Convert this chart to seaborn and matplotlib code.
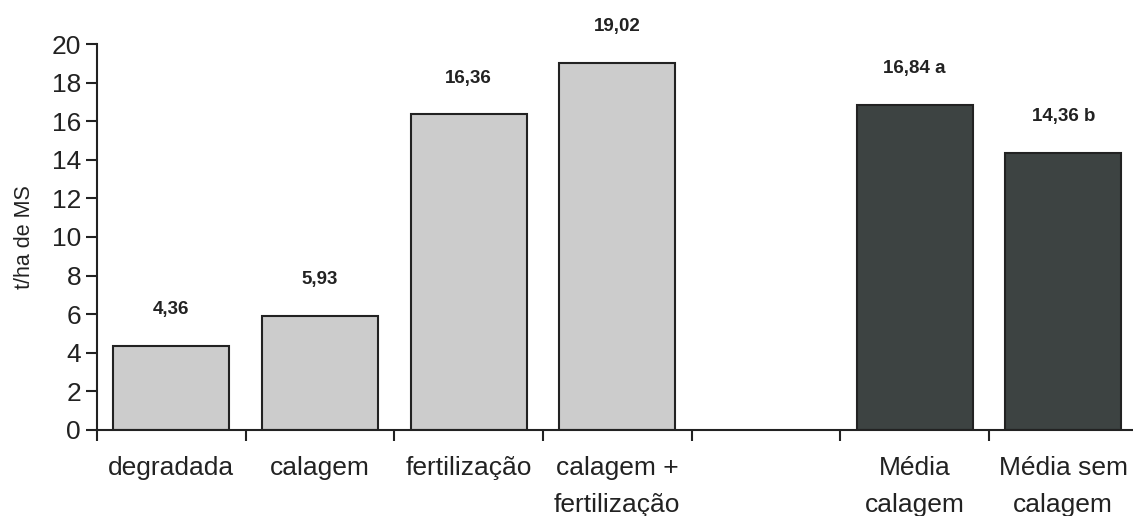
import numpy as np
import pandas as pd
import matplotlib
matplotlib.use("Agg")
import matplotlib.pyplot as plt
import seaborn as sns

# dados
categorias = ["degradada", "calagem", "fertilização", "calagem +\nfertilização",
              " ", "Média\ncalagem", "Média sem\ncalagem"]
valores = [4.36, 5.93, 16.36, 19.02, np.nan, 16.84, 14.36]
rotulos = ["4,36", "5,93", "16,36", "19,02", "", "16,84 a", "14,36 b"]
cores = ["#cccccc", "#cccccc", "#cccccc", "#cccccc", "#ffffff", "#3c4443", "#3c4443"]

df = pd.DataFrame({"cat": categorias, "val": valores})

sns.set_style("ticks")
plt.rcParams["font.family"] = ["Liberation Sans", "DejaVu Sans"]

fig = plt.figure(figsize=(11.33, 5.16), dpi=100)
ax = fig.add_axes([0.0856, 0.1667, 0.9184, 0.7480])

sns.barplot(data=df, x="cat", y="val", hue="cat", order=categorias,
            hue_order=categorias, palette=cores, legend=False,
            width=0.78, edgecolor="#222222", linewidth=1.5, ax=ax)

for i, (v, r) in enumerate(zip(valores, rotulos)):
    if np.isnan(v):
        continue
    ax.annotate(r, (i, v), xytext=(0, 26), textcoords="offset points",
                ha="center", va="center", fontsize=13.5, fontweight="bold",
                color="#222222")

ax.set_ylim(0, 20)
ax.set_xlim(-0.5, len(categorias) - 0.5)
ax.set_yticks(range(0, 21, 2))
ax.set_ylabel("t/ha de MS", fontsize=15.5, color="#222222", labelpad=12)
ax.set_xlabel("")

# ticks do eixo x nas divisas entre categorias
ax.set_xticks(np.arange(-0.5, len(categorias), 1), minor=True)
ax.tick_params(axis="x", which="major", length=0, pad=19, labelsize=19,
               colors="#222222")
ax.tick_params(axis="x", which="minor", length=8, width=1.5, color="#222222")
ax.tick_params(axis="y", length=8, width=1.5, labelsize=19, colors="#222222")
for lbl in ax.get_xticklabels():
    lbl.set_linespacing(1.65)
    lbl.set_va("top")

sns.despine(ax=ax)
for s in ["left", "bottom"]:
    ax.spines[s].set_linewidth(1.5)
    ax.spines[s].set_color("#222222")

fig.savefig("out.png", dpi=100)
